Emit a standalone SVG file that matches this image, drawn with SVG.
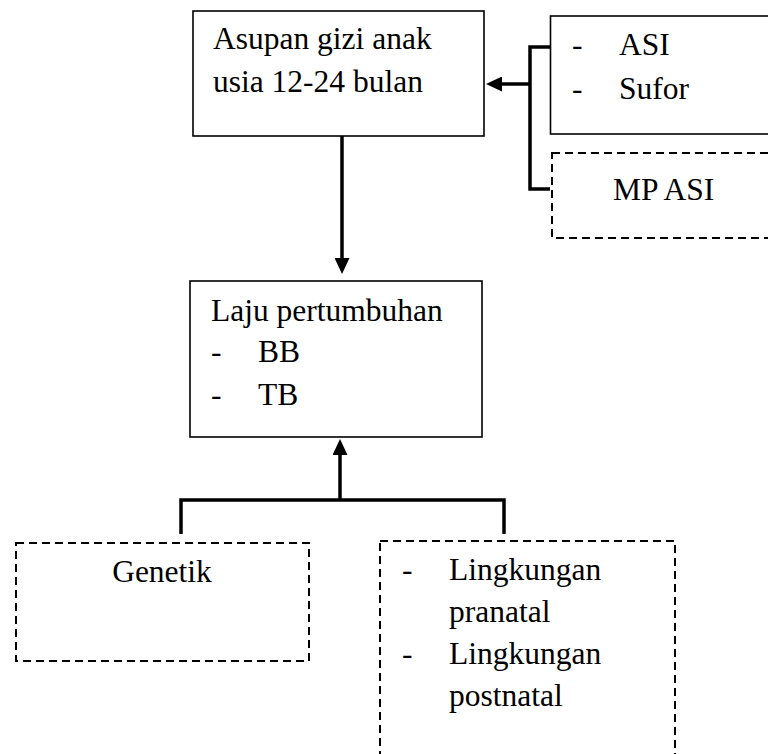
<svg xmlns="http://www.w3.org/2000/svg" width="768" height="754" viewBox="0 0 768 754">
  <style>
    .box { fill: #fff; stroke: #000; stroke-width: 1.6; }
    .dbox { fill: none; stroke: #000; stroke-width: 2; stroke-dasharray: 8 5; }
    .conn { fill: none; stroke: #000; stroke-width: 3.5; }
    text { font-family: "Liberation Serif", "Times New Roman", serif; font-size: 31.5px; fill: #000; }
  </style>
  <defs>
    <marker id="arrow" markerUnits="userSpaceOnUse" markerWidth="16" markerHeight="15" viewBox="0 0 16 15" refX="0" refY="7.5" orient="auto">
      <path d="M0,0 L16,7.5 L0,15 z" fill="#000"/>
    </marker>
  </defs>
  <rect width="768" height="754" fill="#fff"/>

  <g id="connectors">
    <line class="conn" x1="342" y1="136" x2="342" y2="258" marker-end="url(#arrow)"/>
    <line class="conn" x1="340" y1="500" x2="340" y2="455" marker-end="url(#arrow)"/>
    <polyline class="conn" points="181,534 181,500 504,500 504,534"/>
    <polyline class="conn" points="550,47 530,47 530,189 550,189"/>
    <line class="conn" x1="530" y1="84" x2="502" y2="84" marker-end="url(#arrow)"/>
  </g>

  <g id="asupan">
    <rect class="box" x="193" y="11" width="291" height="125"/>
    <text x="213" y="49">Asupan gizi anak</text>
    <text x="213" y="92">usia 12-24 bulan</text>
  </g>

  <g id="asi-sufor">
    <rect class="box" x="550.5" y="16" width="230" height="118"/>
    <text x="572" y="55">-</text>
    <text x="619" y="55">ASI</text>
    <text x="572" y="99">-</text>
    <text x="619" y="99">Sufor</text>
  </g>

  <g id="mpasi">
    <rect class="dbox" x="552" y="153" width="230" height="85"/>
    <text x="613" y="200">MP ASI</text>
  </g>

  <g id="laju">
    <rect class="box" x="190" y="281" width="292" height="156"/>
    <text x="211" y="321">Laju pertumbuhan</text>
    <text x="211" y="362">-</text>
    <text x="258" y="362">BB</text>
    <text x="211" y="405">-</text>
    <text x="258" y="405">TB</text>
  </g>

  <g id="genetik">
    <rect class="dbox" x="16" y="543" width="293" height="118"/>
    <text x="162" y="582" text-anchor="middle">Genetik</text>
  </g>

  <g id="lingkungan">
    <rect class="dbox" x="380" y="541" width="295" height="230"/>
    <text x="402" y="580">-</text>
    <text x="449" y="580">Lingkungan</text>
    <text x="449" y="622">pranatal</text>
    <text x="402" y="664">-</text>
    <text x="449" y="664">Lingkungan</text>
    <text x="449" y="706">postnatal</text>
  </g>
</svg>
